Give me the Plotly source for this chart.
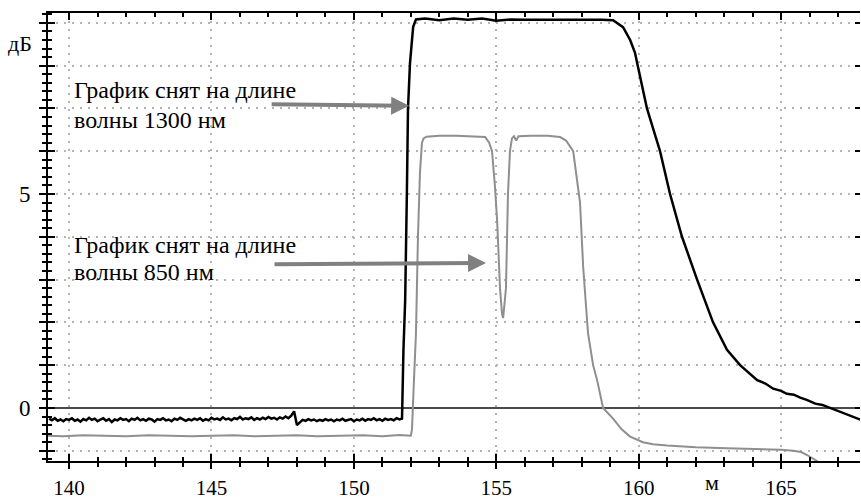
import numpy as np
import plotly.graph_objects as go

# ---------------- data ----------------
# 1300 nm trace (black): noisy baseline sampled every 0.1 m from 139.3 m
black_base_x0 = 139.3
black_base_step = 0.1
black_base_y = [
    -0.25, -0.29, -0.24, -0.30, -0.27, -0.31, -0.26, -0.28, -0.24, -0.30,
    -0.27, -0.32, -0.26, -0.29, -0.23, -0.28, -0.25, -0.31, -0.27, -0.24,
    -0.30, -0.26, -0.33, -0.27, -0.29, -0.24, -0.28, -0.26, -0.31, -0.25,
    -0.28, -0.23, -0.29, -0.26, -0.30, -0.25, -0.27, -0.32, -0.26, -0.28,
    -0.24, -0.29, -0.27, -0.31, -0.25, -0.28, -0.23, -0.27, -0.30, -0.26,
    -0.29, -0.25, -0.28, -0.24, -0.30, -0.26, -0.29, -0.23, -0.27, -0.25,
    -0.28, -0.22, -0.27, -0.25, -0.29, -0.24, -0.26, -0.21, -0.27, -0.24,
    -0.26, -0.22, -0.28, -0.24, -0.27, -0.23, -0.26, -0.21, -0.25, -0.23,
    -0.27, -0.22, -0.25, -0.20, -0.24, -0.18, -0.08, -0.40, -0.33, -0.28,
    -0.30, -0.26, -0.29, -0.27, -0.31, -0.28, -0.30, -0.26, -0.29, -0.27,
    -0.31, -0.27, -0.29, -0.25, -0.30, -0.28, -0.26, -0.31, -0.27, -0.29,
    -0.25, -0.30, -0.26, -0.28, -0.24, -0.29, -0.26, -0.30, -0.25, -0.28,
    -0.26, -0.29, -0.24, -0.27,
]
black_rest_x = [151.69, 151.74, 151.80, 151.86, 151.90, 151.97, 152.08, 152.18,
                152.5, 153.0, 153.5, 154.0, 154.5, 155.0, 155.5, 156.0, 157.0,
                158.0, 158.7, 159.10, 159.45, 159.70, 159.87, 159.94, 160.29,
                160.75, 161.10, 161.52, 162.05, 162.61, 163.10, 163.56, 164.16,
                164.45, 164.72, 165.0, 165.2, 165.45, 165.67, 165.9, 166.2,
                166.45, 166.72, 166.95, 167.2, 167.5, 167.81]
black_rest_y = [-0.25, 1.36, 2.5, 5.0, 7.0, 8.06, 8.9, 9.08,
                9.1, 9.06, 9.1, 9.07, 9.1, 9.05, 9.08, 9.07, 9.07,
                9.08, 9.07, 9.06, 8.9, 8.6, 8.3, 8.08, 7.0,
                6.0, 5.0, 4.0, 3.0, 2.0, 1.36, 1.0, 0.65,
                0.57, 0.45, 0.40, 0.33, 0.31, 0.24, 0.19, 0.10,
                0.07, 0.0, -0.06, -0.12, -0.20, -0.28]

# 850 nm trace (grey)
grey_x = [139.26, 139.8, 140.5, 141.2, 142.0, 142.8, 143.5, 144.3, 145.0,
          145.8, 146.5, 147.3, 148.0, 148.7, 149.5, 150.3, 151.0, 151.6,
          152.0, 152.04, 152.10, 152.18, 152.25, 152.32, 152.39, 152.45,
          152.55, 153.0, 153.6, 154.2, 154.61, 154.75, 154.85, 154.95,
          155.03, 155.13, 155.20, 155.24, 155.30, 155.34, 155.41, 155.48,
          155.55, 155.62, 155.70, 155.78, 156.2, 156.8, 157.24, 157.45,
          157.70, 157.94, 158.05, 158.22, 158.40, 158.54, 158.75, 159.10,
          159.40, 159.70, 160.15, 160.5, 161.0, 162.0, 163.1, 164.2,
          165.0, 165.42, 165.70, 165.91, 166.26, 166.6]
grey_y = [-0.65, -0.66, -0.64, -0.65, -0.66, -0.64, -0.65, -0.66, -0.65,
          -0.64, -0.66, -0.65, -0.64, -0.66, -0.65, -0.64, -0.66, -0.63,
          -0.65, -0.5, 0.5, 1.75, 4.0, 5.5, 6.2, 6.3,
          6.34, 6.36, 6.36, 6.35, 6.33, 6.2, 6.0, 5.2,
          4.37, 2.8, 2.2, 2.1, 2.5, 2.8, 5.0, 6.0,
          6.3, 6.35, 6.25, 6.35, 6.36, 6.36, 6.33, 6.25,
          6.0, 4.8, 3.3, 1.75, 1.0, 0.65, 0.0, -0.25,
          -0.5, -0.67, -0.8, -0.85, -0.88, -0.92, -0.94, -0.96,
          -0.98, -1.0, -1.03, -1.1, -1.24, -1.45]

# axes
x_range = [139.26, 167.77]
y_range = [-1.24, 9.23]
x_major = [140, 145, 150, 155, 160, 165]
x_labels = ["140", "145", "150", "155", "160", "165"]
y_major = list(range(-1, 10))
y_labels = ["" if v not in (0, 5) else str(v) for v in y_major]

# ---------------- build ----------------
black_base_x = [round(black_base_x0 + i * black_base_step, 2) for i in range(len(black_base_y))]
black_x = black_base_x + black_rest_x
black_y = black_base_y + black_rest_y

SERIF = "Liberation Serif, DejaVu Serif, Times New Roman, serif"
GRID = "#b4b4b4"

fig = go.Figure()
fig.add_trace(go.Scatter(x=grey_x, y=grey_y, mode="lines",
                         line=dict(color="#8f8f8f", width=2), showlegend=False))
fig.add_trace(go.Scatter(x=black_x, y=black_y, mode="lines",
                         line=dict(color="#000000", width=2.5), showlegend=False))
fig.add_trace(go.Scatter(x=[None], y=[None], xaxis="x2", yaxis="y2", showlegend=False))
fig.add_trace(go.Scatter(x=[None], y=[None], xaxis="x3", yaxis="y3", showlegend=False))

fig.update_layout(
    width=861, height=501,
    margin=dict(l=48, r=1, t=13, b=40, autoexpand=False),
    plot_bgcolor="white", paper_bgcolor="white",
    font=dict(family=SERIF, size=22, color="black"),
    xaxis=dict(range=x_range, tickmode="array", tickvals=x_major, ticktext=x_labels,
               automargin=False,
               ticks="outside", ticklen=6, tickwidth=2, tickcolor="black",
               minor=dict(tick0=140, dtick=1, ticks="outside", ticklen=4, tickwidth=1.5,
                          tickcolor="black", showgrid=False),
               showgrid=True, gridcolor=GRID, griddash="2px,6px", gridwidth=2,
               showline=True, linecolor="black", linewidth=2, zeroline=False,
               tickfont=dict(family=SERIF, size=21, color="black"),
               ticklabelstandoff=1),
    yaxis=dict(range=y_range, tickmode="array", tickvals=y_major, ticktext=y_labels,
               automargin=False,
               ticks="outside", ticklen=7, tickwidth=2, tickcolor="black",
               minor=dict(tick0=0, dtick=0.2, ticks="outside", ticklen=4, tickwidth=1.5,
                          tickcolor="black", showgrid=False),
               showgrid=True, gridcolor=GRID, griddash="2px,6px", gridwidth=2,
               zeroline=True, zerolinecolor="#4a4a4a", zerolinewidth=2,
               showline=True, linecolor="black", linewidth=2,
               tickfont=dict(family=SERIF, size=23, color="black"),
               ticklabelstandoff=4),
    xaxis2=dict(range=x_range, overlaying="x", anchor="y2", side="bottom", automargin=False,
                tickmode="array", tickvals=x_major, showticklabels=False,
                ticks="inside", ticklen=7, tickwidth=2, tickcolor="black",
                minor=dict(tick0=140, dtick=1, ticks="inside", ticklen=4, tickwidth=1.5,
                           tickcolor="black", showgrid=False),
                showgrid=False, zeroline=False, showline=False),
    yaxis2=dict(range=y_range, overlaying="y", anchor="x2", side="left", automargin=False,
                tickmode="array", tickvals=y_major, showticklabels=False,
                ticks="inside", ticklen=7, tickwidth=2, tickcolor="black",
                minor=dict(tick0=0, dtick=0.2, ticks="inside", ticklen=4, tickwidth=1.5,
                           tickcolor="black", showgrid=False),
                showgrid=False, zeroline=False, showline=False),
    xaxis3=dict(range=x_range, overlaying="x", anchor="y3", side="top", automargin=False,
                tickmode="array", tickvals=x_major, showticklabels=False,
                ticks="inside", ticklen=7, tickwidth=1.5, tickcolor="black",
                minor=dict(tick0=140, dtick=1, ticks="inside", ticklen=4, tickwidth=1.5,
                           tickcolor="black", showgrid=False),
                showgrid=False, zeroline=False, showline=True, linecolor="black", linewidth=1.5),
    yaxis3=dict(range=y_range, overlaying="y", anchor="x3", side="right", automargin=False,
                tickmode="array", tickvals=y_major, showticklabels=False,
                ticks="inside", ticklen=5, tickwidth=2, tickcolor="black",
                showgrid=False, zeroline=False, showline=False),
)

txt_font = dict(family=SERIF, size=24, color="black")
ann = [
    dict(x=140.1, y=7.44, text="График снят на длине"),
    dict(x=140.1, y=6.74, text="волны 1300 нм"),
    dict(x=140.1, y=3.80, text="График снят на длине"),
    dict(x=140.1, y=3.17, text="волны 850 нм"),
]
for a in ann:
    fig.add_annotation(x=a["x"], y=a["y"], xref="x", yref="y", text=a["text"],
                       showarrow=False, xanchor="left", yanchor="middle", font=txt_font)

arrows = [((151.94, 7.06), (147.06, 7.10)), ((154.64, 3.39), (147.16, 3.36))]
for (tx, ty), (sx, sy) in arrows:
    fig.add_annotation(x=tx, y=ty, ax=sx, ay=sy, xref="x", yref="y", axref="x", ayref="y",
                       text="", showarrow=True, arrowhead=2, arrowsize=0.9, arrowwidth=4,
                       arrowcolor="#808080", standoff=0)

fig.add_annotation(x=-0.034, y=0.933, xref="paper", yref="paper", text="дБ",
                   showarrow=False, xanchor="center", yanchor="middle",
                   font=dict(family=SERIF, size=22, color="black"))
fig.add_annotation(x=162.58, y=-0.047, xref="x", yref="paper", text="м",
                   showarrow=False, xanchor="center", yanchor="middle",
                   font=dict(family=SERIF, size=22, color="black"))

fig.write_html("out.html")
